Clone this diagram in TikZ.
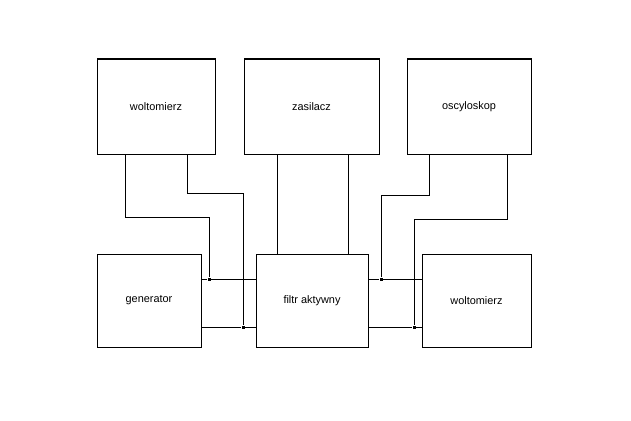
\documentclass[tikz,border=0pt]{standalone}
\usepackage{fontspec}
\setmainfont{Liberation Sans}
\begin{document}
\begin{tikzpicture}[x=1pt,y=-1pt,line width=1pt,
  box/.style={draw,rectangle,inner sep=0pt,font=\fontsize{10.9}{12}\selectfont},
  junction/.style={fill,rectangle,minimum size=3pt,inner sep=0pt}]
\useasboundingbox (0,0) rectangle (631,420);
% boxes: corners given explicitly
\node[box,minimum width=118pt,minimum height=95pt] (w1) at (156,106.5) {woltomierz};
\node[box,minimum width=135pt,minimum height=95pt] (zas) at (311.5,106.5) {zasilacz};
\node[box,minimum width=124pt,minimum height=95pt] (osc) at (469,106.5) {oscyloskop};
\node[box,minimum width=104pt,minimum height=93pt] (gen) at (149,300.5) {generator};
\node[box,minimum width=112pt,minimum height=93pt] (fil) at (312,300.5) {filtr aktywny};
\node[box,minimum width=109pt,minimum height=93pt] (w2) at (476.5,300.5) {woltomierz};
% junctions
\node[junction] (j1) at (209,279) {};
\node[junction] (j2) at (243,327) {};
\node[junction] (j3) at (381,279) {};
\node[junction] (j4) at (414,327) {};
% signal lines between bottom boxes
\draw (gen.east |- j1) -- (j1) -- (fil.west |- j1);
\draw (gen.east |- j2) -- (j2) -- (fil.west |- j2);
\draw (fil.east |- j3) -- (j3) -- (w2.west |- j3);
\draw (fil.east |- j4) -- (j4) -- (w2.west |- j4);
% woltomierz 1 leads
\coordinate (a1) at (125,154);
\coordinate (a2) at (187,154);
\draw (a1) -- (125,217) -| (j1);
\draw (a2) -- (187,193) -| (j2);
% zasilacz leads
\draw (zas.south -| 277,0) -- (fil.north -| 277,0);
\draw (zas.south -| 348,0) -- (fil.north -| 348,0);
% oscyloskop leads
\coordinate (b1) at (429,154);
\draw (b1) -- (429,195) -| (j3);
% woltomierz 2 lead
\coordinate (b2) at (507,154);
\draw (b2) -- (507,219) -| (j4);
\end{tikzpicture}
\end{document}
